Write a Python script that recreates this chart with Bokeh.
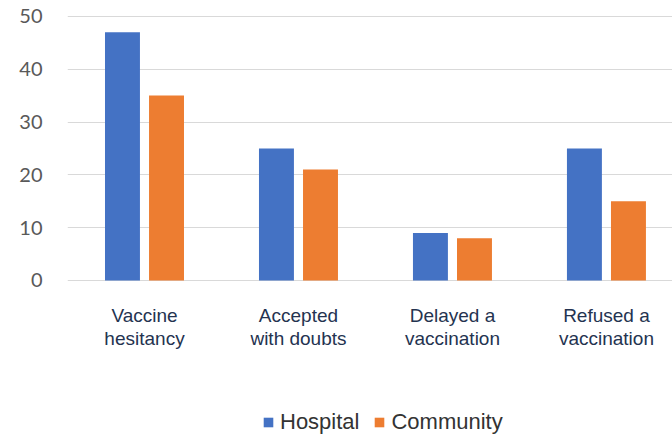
from bokeh.plotting import figure
from bokeh.models import Range1d, FixedTicker, Legend, LegendItem, ColumnDataSource
from bokeh.core.properties import value
from bokeh.embed import file_html
from bokeh.resources import INLINE

categories = ["Vaccine\nhesitancy", "Accepted\nwith doubts", "Delayed a\nvaccination", "Refused a\nvaccination"]
hospital = [47, 25, 9, 25]
community = [35, 21, 8, 15]
y_ticks = [0, 10, 20, 30, 40, 50]

xpos = [i + 0.5 for i in range(len(categories))]
off = 0.143
bw = 0.227

p = figure(width=672, height=437, output_backend="svg", toolbar_location=None,
           x_range=Range1d(0, 3.929), y_range=Range1d(-29.75, 51.5),
           min_border_left=67, min_border_right=0, min_border_top=8, min_border_bottom=0)
p.outline_line_color = None
p.background_fill_color = "white"
p.border_fill_color = "white"
p.xaxis.visible = False

src = ColumnDataSource(dict(xh=[x - off for x in xpos], xc=[x + off for x in xpos],
                            hospital=hospital, community=community))
rh = p.vbar(x="xh", top="hospital", width=bw, source=src, fill_color="#4472C4", line_color=None)
rc = p.vbar(x="xc", top="community", width=bw, source=src, fill_color="#ED7D31", line_color=None)

# grid
p.xgrid.visible = False
p.ygrid.ticker = FixedTicker(ticks=y_ticks)
p.ygrid.grid_line_color = "#d9d9d9"
p.ygrid.grid_line_width = 1

# y axis
ya = p.yaxis[0]
ya.ticker = FixedTicker(ticks=y_ticks)
ya.axis_line_color = None
ya.major_tick_line_color = None
ya.minor_tick_line_color = None
ya.major_label_standoff = 19
ya.major_label_text_font = "Lato"
ya.major_label_text_font_size = "20px"
ya.major_label_text_color = "#595959"

# category labels
lab = ColumnDataSource(dict(x=xpos, y=[-4.62] * len(xpos), text=categories))
p.text(x="x", y="y", text="text", source=lab, text_align="center", text_baseline="top",
       text_font=value("Liberation Sans"), text_font_size="19px", text_line_height=1.1,
       text_color="#243350")

legend = Legend(items=[LegendItem(label="Hospital", renderers=[rh]),
                       LegendItem(label="Community", renderers=[rc])],
                orientation="horizontal", location=(195, 2))
legend.glyph_width = 12
legend.glyph_height = 12
legend.label_standoff = 6
legend.spacing = 14
legend.padding = 0
legend.margin = 0
legend.border_line_color = None
legend.background_fill_alpha = 0
legend.label_text_font = "Liberation Sans"
legend.label_text_font_size = "22px"
legend.label_text_color = "#333333"
p.add_layout(legend, "center")

open("out.html", "w").write(file_html(p, INLINE))
